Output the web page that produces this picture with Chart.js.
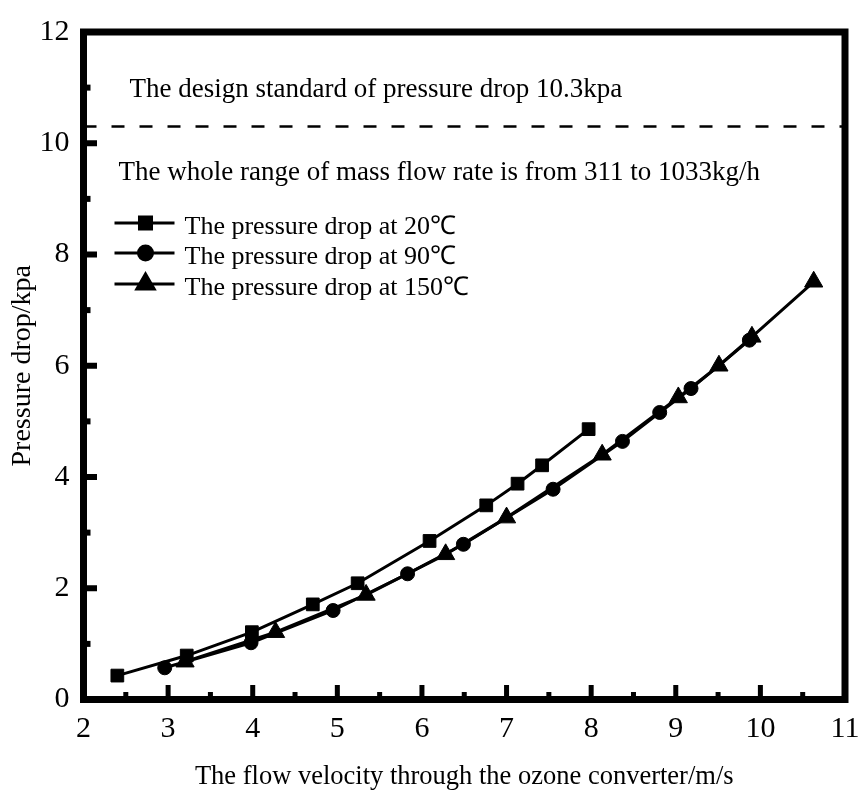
<!DOCTYPE html>
<html><head><meta charset="utf-8">
<script src="https://cdn.jsdelivr.net/npm/chart.js@4/dist/chart.umd.min.js"></script>
<style>html,body{margin:0;padding:0;background:#fff;overflow:hidden;} #wrap{width:859px;height:790px;position:relative;}</style>
</head><body><div id="wrap"><canvas id="c" width="859" height="790"></canvas></div>
<script>
// ---- data ----
const velocity20  = [2.40, 3.22, 3.99, 4.71, 5.24, 6.09, 6.76, 7.13, 7.42, 7.97];
const pressure20  = [0.43, 0.79, 1.21, 1.71, 2.09, 2.85, 3.49, 3.88, 4.21, 4.86];
const velocity90  = [2.96, 3.98, 4.95, 5.83, 6.49, 7.55, 8.37, 8.81, 9.18, 9.87];
const pressure90  = [0.57, 1.02, 1.60, 2.26, 2.79, 3.78, 4.64, 5.16, 5.59, 6.46];
const velocity150 = [3.20, 4.27, 5.34, 6.28, 7.00, 8.13, 9.03, 9.51, 9.90, 10.63];
const pressure150 = [0.68, 1.21, 1.88, 2.61, 3.27, 4.40, 5.43, 6.00, 6.52, 7.51];
const seriesLabels = ['The pressure drop at 20℃', 'The pressure drop at 90℃', 'The pressure drop at 150℃'];
const seriesMarkers = ['rect', 'circle', 'triangle'];
const designLimit = 10.3;
const xRange = [2, 11];
const yRange = [0, 12];
const notes = ['The design standard of pressure drop 10.3kpa',
               'The whole range of mass flow rate is from 311 to 1033kg/h'];
const xTitle = 'The flow velocity through the ozone converter/m/s';
const yTitle = 'Pressure drop/kpa';

const FONT = "'Liberation Serif', 'Times New Roman', serif";
const markerRadius = {rect: 9, circle: 7, triangle: 10.5};

function pts(xs, ys) { return xs.map((x, i) => ({x: x, y: ys[i]})); }

const series = [
  pts(velocity20, pressure20),
  pts(velocity90, pressure90),
  pts(velocity150, pressure150)
];

const datasets = series.map((d, i) => ({
  label: seriesLabels[i],
  data: d,
  borderColor: '#000',
  backgroundColor: '#000',
  borderWidth: 3,
  pointStyle: seriesMarkers[i],
  pointRadius: markerRadius[seriesMarkers[i]],
  pointBackgroundColor: '#000',
  pointBorderColor: '#000',
  pointBorderWidth: 1,
  tension: 0
}));
datasets.push({
  label: 'limit',
  data: [{x: xRange[0], y: designLimit}, {x: xRange[1], y: designLimit}],
  borderColor: '#000',
  borderWidth: 2.5,
  borderDash: [13, 15],
  pointRadius: 0
});

const decor = {
  id: 'decor',
  afterDatasetsDraw(chart) {
    const ctx = chart.ctx;
    const a = chart.chartArea;
    const xs = chart.scales.x, ys = chart.scales.y;
    ctx.save();
    ctx.fillStyle = '#000';
    ctx.strokeStyle = '#000';
    // frame
    ctx.lineWidth = 7;
    ctx.strokeRect(a.left, a.top, a.right - a.left, a.bottom - a.top);
    // x ticks (inward)
    const xt = xs.ticks.map(t => t.value);
    xt.forEach((v, i) => {
      const p = xs.getPixelForValue(v);
      if (v > xRange[0] && v < xRange[1]) ctx.fillRect(p - 2.5, a.bottom - 3.5 - 11, 5, 11);
      if (i < xt.length - 1) {
        const m = xs.getPixelForValue((v + xt[i + 1]) / 2);
        ctx.fillRect(m - 2.5, a.bottom - 3.5 - 4, 5, 4);
      }
    });
    // y ticks (inward)
    const yt = ys.ticks.map(t => t.value);
    yt.forEach((v, i) => {
      const p = ys.getPixelForValue(v);
      if (v > yRange[0] && v < yRange[1]) ctx.fillRect(a.left + 3.5, p - 3, 10, 6);
      if (i < yt.length - 1) {
        const m = ys.getPixelForValue((v + yt[i + 1]) / 2);
        ctx.fillRect(a.left + 3.5, m - 3, 3.5, 6);
      }
    });
    // notes
    ctx.font = '27px ' + FONT;
    ctx.textBaseline = 'alphabetic';
    ctx.textAlign = 'left';
    ctx.fillText(notes[0], a.left + 46, a.top + 65);
    ctx.fillText(notes[1], a.left + 35, a.top + 148);
    // legend
    const rows = [a.top + 191, a.top + 221, a.top + 252];
    rows.forEach((ry, i) => {
      ctx.lineWidth = 3;
      ctx.setLineDash([]);
      ctx.beginPath();
      ctx.moveTo(a.left + 31, ry);
      ctx.lineTo(a.left + 91, ry);
      ctx.stroke();
      Chart.helpers.drawPoint(ctx, {pointStyle: seriesMarkers[i], radius: seriesMarkers[i] === 'triangle' ? 10 : (seriesMarkers[i] === 'rect' ? 8.5 : 7), rotation: 0, borderWidth: 1}, a.left + 62, ry);
      ctx.font = '26px ' + FONT;
      ctx.fillText(seriesLabels[i], a.left + 101, ry + 11);
    });
    ctx.restore();
  }
};

new Chart(document.getElementById('c'), {
  type: 'line',
  data: {datasets: datasets},
  options: {
    responsive: false,
    animation: false,
    devicePixelRatio: 1,
    layout: {padding: {left: 0, right: 14, top: 27, bottom: 0}},
    plugins: {legend: {display: false}, tooltip: {enabled: false}},
    scales: {
      x: {
        type: 'linear', min: xRange[0], max: xRange[1],
        ticks: {stepSize: 1, color: '#000', font: {family: FONT, size: 30}, padding: 12, maxRotation: 0},
        grid: {display: false, drawTicks: false},
        border: {display: false},
        title: {display: true, text: xTitle, color: '#000', font: {family: FONT, size: 26.5, lineHeight: 1}, padding: {top: 0, bottom: 0}},
        afterFit(s) { s.height = 90.5; s.paddingLeft = 0; s.paddingRight = 0; }
      },
      y: {
        type: 'linear', min: yRange[0], max: yRange[1],
        ticks: {stepSize: 2, color: '#000', font: {family: FONT, size: 30}, padding: 14},
        grid: {display: false, drawTicks: false},
        border: {display: false},
        title: {display: true, text: yTitle, color: '#000', font: {family: FONT, size: 28, lineHeight: 1.2}, padding: {top: 6, bottom: 0}},
        afterFit(s) { s.width = 83.5; }
      }
    }
  },
  plugins: [decor]
});
</script>
</body></html>
